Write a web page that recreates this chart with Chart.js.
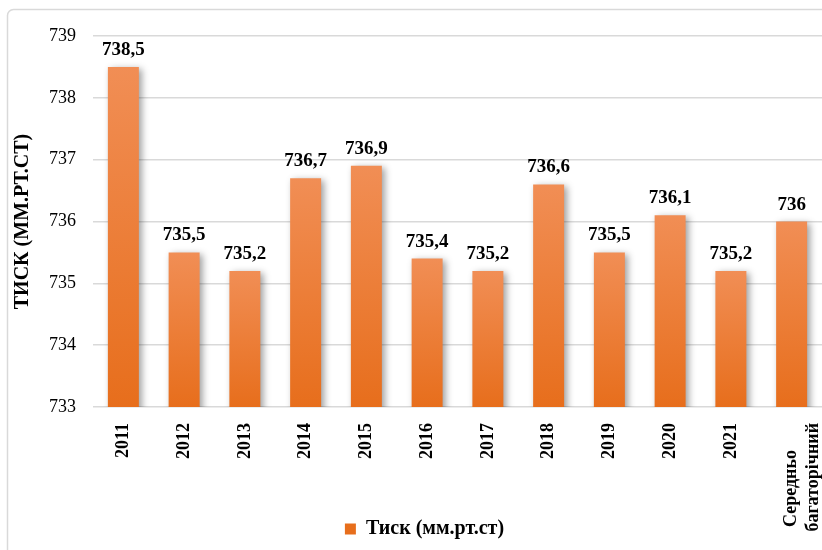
<!DOCTYPE html>
<html><head><meta charset="utf-8">
<script src="https://cdn.jsdelivr.net/npm/chart.js@4/dist/chart.umd.min.js"></script>
<style>html,body{margin:0;padding:0;background:#fff}</style>
</head><body>
<canvas id="c" width="822" height="550"></canvas>
<script>
const categories = ['2011','2012','2013','2014','2015','2016','2017','2018','2019','2020','2021',['Середньо      ','багаторічний']];
const pressure = [738.5,735.5,735.2,736.7,736.9,735.4,735.2,736.6,735.5,736.1,735.2,736];
const yMin = 733, yMax = 739, yStep = 1;
const seriesName = 'Тиск (мм.рт.ст)';
const yTitle = 'ТИСК (ММ.РТ.СТ)';
const FONT = "'Liberation Serif','Times New Roman',serif";

function barFill(c){
  const ch = c.chart;
  if (!ch.chartArea || c.raw === undefined) return '#EE7E38';
  const y = ch.scales.y;
  const top = y.getPixelForValue(c.raw), bot = y.getPixelForValue(y.min);
  const g = ch.ctx.createLinearGradient(0, top, 0, bot);
  g.addColorStop(0, '#F18E55');
  g.addColorStop(1, '#E76E1C');
  return g;
}

const frame = {
  id:'frame',
  beforeDraw(ch){
    const x = ch.ctx; x.save();
    x.strokeStyle = '#d9d9d9'; x.lineWidth = 1.5;
    x.beginPath();
    if (x.roundRect) x.roundRect(7.5, 9.5, 860, 600, 6); else x.rect(7.5,9.5,860,600);
    x.stroke(); x.restore();
  }
};
const adjust = {
  id:'adjust',
  afterLayout(ch){
    // let the rotated tick labels run down past the legend row (they sit to its right)
    ch.scales.x.bottom = ch.height;
    const L = ch.legend; L.left += 8; L.right += 8;
  }
};
const shadow = {
  id:'shadow',
  beforeDatasetsDraw(ch){
    const x = ch.ctx; x.save();
    x.shadowColor = 'rgba(0,0,0,0.38)'; x.shadowBlur = 7; x.shadowOffsetX = 3; x.shadowOffsetY = 2;
  },
  afterDatasetsDraw(ch){ ch.ctx.restore(); }
};
const valueLabels = {
  id:'valueLabels',
  afterDatasetsDraw(ch){
    const x = ch.ctx; const meta = ch.getDatasetMeta(0);
    x.save();
    x.font = 'bold 19px ' + FONT; x.fillStyle = '#000'; x.textAlign = 'center'; x.textBaseline = 'alphabetic';
    meta.data.forEach((el,i)=>{
      const v = ch.data.datasets[0].data[i];
      x.fillText(String(v).replace('.', ','), el.x, el.y - 12);
    });
    x.restore();
  }
};

new Chart(document.getElementById('c'), {
  type:'bar',
  data:{ labels:categories, datasets:[{ label:seriesName, data:pressure, backgroundColor:barFill, categoryPercentage:1, barPercentage:0.51 }]},
  options:{
    responsive:false, animation:false, devicePixelRatio:1,
    layout:{ padding:{ left:11, top:36, right:0, bottom:1 } },
    plugins:{
      legend:{ position:'bottom', labels:{ boxWidth:11, boxHeight:11, color:'#000', font:{ family:FONT, size:20, weight:'bold' }, padding:8 } },
      tooltip:{ enabled:false }
    },
    scales:{
      x:{
        grid:{ display:false }, border:{ display:false },
        ticks:{ color:'#000', font:{ family:FONT, size:18, weight:'bold' }, minRotation:90, maxRotation:90, autoSkip:false, padding:8 },
        afterFit(s){ s.height = 104; s.paddingLeft = 0; s.paddingRight = 0; }
      },
      y:{
        min:yMin, max:yMax,
        grid:{ color:'#d9d9d9', drawTicks:false, lineWidth:1.5 }, border:{ display:false },
        ticks:{ stepSize:yStep, color:'#000', font:{ family:FONT, size:18 }, padding:17 },
        title:{ display:true, text:yTitle, color:'#000', font:{ family:FONT, size:20, weight:'bold' }, padding:{ top:0, bottom:-3 } }
      }
    }
  },
  plugins:[frame, adjust, shadow, valueLabels]
});
</script>
</body></html>
